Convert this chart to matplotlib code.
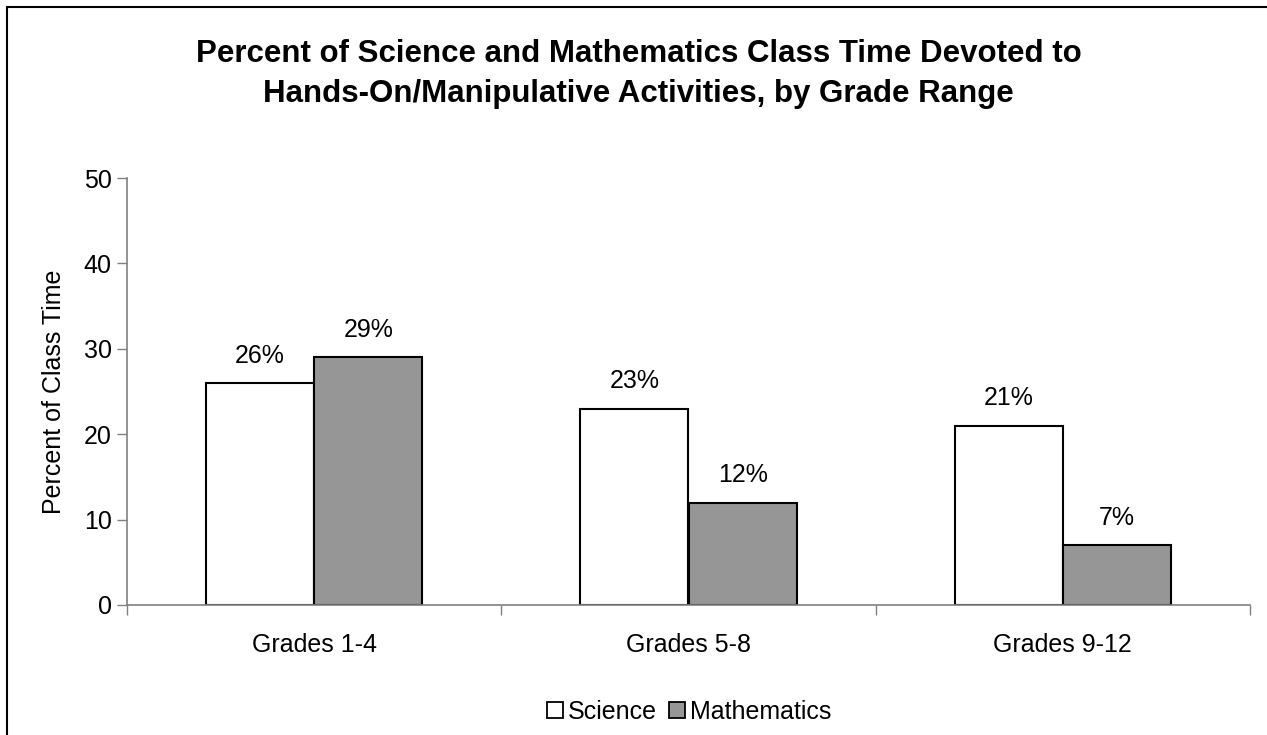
import matplotlib
matplotlib.use("Agg")
import matplotlib.pyplot as plt
import numpy as np
from matplotlib.patches import Rectangle, Patch

plt.rcParams['font.family'] = ['Liberation Sans', 'DejaVu Sans']

categories = ["Grades 1-4", "Grades 5-8", "Grades 9-12"]
series_names = ["Science", "Mathematics"]
science = [26, 23, 21]
mathematics = [29, 12, 7]
yticks = [0, 10, 20, 30, 40, 50]
title_lines = ["Percent of Science and Mathematics Class Time Devoted to",
               "Hands-On/Manipulative Activities, by Grade Range"]
ylabel = "Percent of Class Time"

W, H = 1267, 735
fig = plt.figure(figsize=(W / 100, H / 100), dpi=100)
fig.patch.set_facecolor('white')

ax = fig.add_axes([127 / W, 1 - 605 / H, (1250 - 127) / W, (605 - 178) / H])

x = np.arange(len(categories))
bw = 0.289
b1 = ax.bar(x - bw / 2, science, bw, color='white', edgecolor='black', linewidth=1.5, label=series_names[0])
b2 = ax.bar(x + bw / 2, mathematics, bw, color='#969696', edgecolor='black', linewidth=1.5, label=series_names[1])

for bars, vals in ((b1, science), (b2, mathematics)):
    for rect, v in zip(bars, vals):
        ax.annotate(f"{v}%", (rect.get_x() + rect.get_width() / 2, v),
                    xytext=(0, 11), textcoords='offset points',
                    ha='center', va='bottom', fontsize=18)

ax.set_xlim(-0.5, len(categories) - 0.5)
ax.set_ylim(0, 50)
ax.set_yticks(yticks)
ax.set_yticklabels([str(t) for t in yticks], fontsize=18)

ax.set_xticks(np.arange(len(categories) + 1) - 0.5)
ax.set_xticklabels([])
ax.set_xticks(x, minor=True)
ax.set_xticklabels(categories, minor=True, fontsize=18)
ax.tick_params(axis='x', which='minor', length=0, pad=20)
ax.tick_params(axis='x', which='major', length=7, width=1, direction='out', color='#808080')
ax.tick_params(axis='y', length=7, width=1, direction='out', color='#808080', pad=4)

for s in ('top', 'right'):
    ax.spines[s].set_visible(False)
for s in ('left', 'bottom'):
    ax.spines[s].set_color('#808080')
    ax.spines[s].set_linewidth(1.2)

ax.set_ylabel(ylabel, fontsize=18, labelpad=13)

fig.text(639 / W, 1 - 62 / H, title_lines[0], ha='center', va='baseline',
         fontsize=22.5, fontweight='bold')
fig.text(638 / W, 1 - 102 / H, title_lines[1], ha='center', va='baseline',
         fontsize=22.5, fontweight='bold')

handles = [Patch(facecolor='white', edgecolor='black', linewidth=1.3),
           Patch(facecolor='#969696', edgecolor='black', linewidth=1.3)]
fig.legend(handles, series_names, loc='center', bbox_to_anchor=(689 / W, 1 - 712 / H),
           ncol=2, frameon=False, fontsize=18, handlelength=0.62, handleheight=0.62,
           handletextpad=0.2, columnspacing=0.5, borderpad=0, borderaxespad=0)

border = Rectangle((7 / W, -0.5), 2.0, 0.5 + (1 - 7 / H), transform=fig.transFigure,
                   fill=False, edgecolor='black', linewidth=1.5, clip_on=False)
fig.patches.append(border)

fig.savefig("out.png", dpi=100)
